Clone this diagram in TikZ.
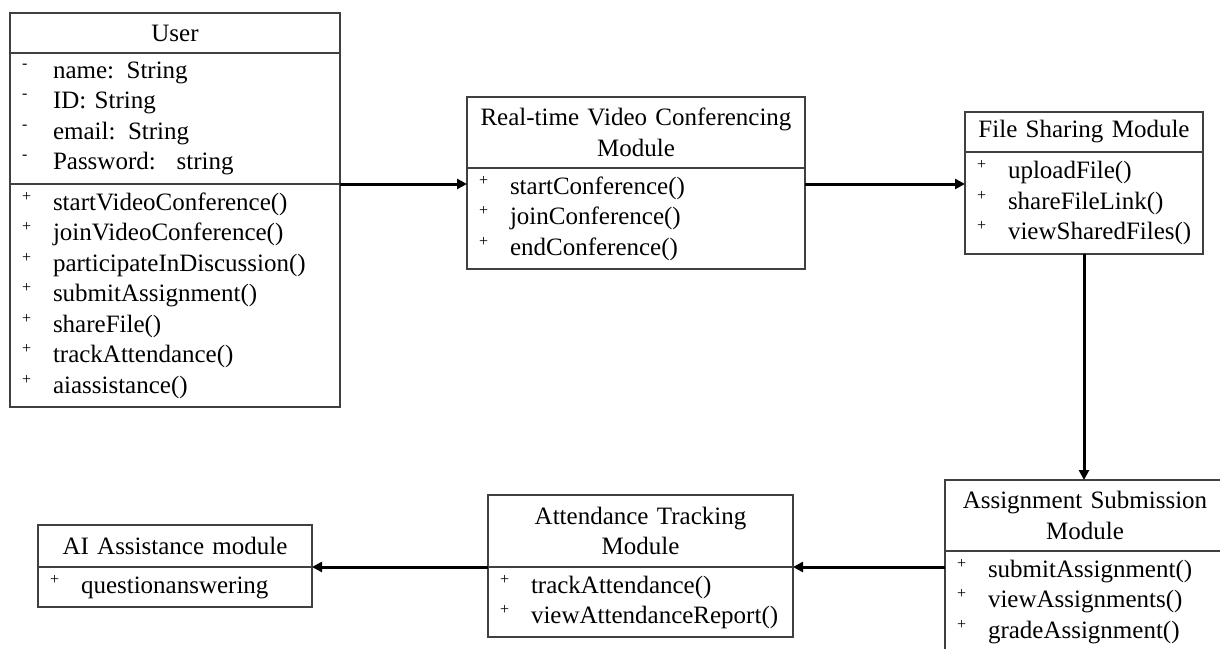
\documentclass[tikz,border=0pt]{standalone}
\usepackage{fontspec}
\setmainfont{Liberation Serif}
\usetikzlibrary{arrows.meta,positioning}

\newcommand\pub{\makebox[15.5pt][l]{\raisebox{4.5pt}{\footnotesize +}}}
\newcommand\priv{\makebox[15.5pt][l]{\raisebox{5pt}{\footnotesize -}}}

\begin{document}
\begin{tikzpicture}[x=0.5pt,y=-0.5pt,
	font=\fontsize{12.5}{15.25}\selectfont,
	box/.style={draw=black!75,line width=0.6pt,outer sep=0pt,inner xsep=6pt,inner ysep=0pt},
	head/.style={box,align=center},
	body/.style={box,align=left},
	link/.style={line width=1.5pt,-{Triangle[length=5pt,width=5pt]}}]
	    \useasboundingbox (0,0) rectangle (1220,648);
	    \clip (0,0) rectangle (1220,648);
	    \coordinate (upper) at (0,184);
	    % User
	    \node[head,anchor=north west,minimum width=165pt,text width=153pt,minimum height=20pt] (uhead) at (10,13) {User};
	    \node[body,below=0pt of uhead,minimum width=165pt,text width=153pt,minimum height=65.5pt] (uattr) {\priv name: String\\ \priv ID: String\\ \priv email: String\\ \priv Password:~ string};
	    \node[body,below=0pt of uattr,minimum width=165pt,text width=153pt,minimum height=111.5pt] (umeth) {\pub startVideoConference()\\ \pub joinVideoConference()\\ \pub participateInDiscussion()\\ \pub submitAssignment()\\ \pub shareFile()\\ \pub trackAttendance()\\ \pub aiassistance()};
	    % Real-time video conferencing
	    \node[head,anchor=north west,minimum width=169pt,text width=157pt,minimum height=35.5pt] (rthead) at (467,97) {Real-time Video Conferencing\\ Module};
	    \node[body,below=0pt of rthead,minimum width=169pt,text width=157pt,minimum height=50.5pt] (rtmeth) {\pub startConference()\\ \pub joinConference()\\ \pub endConference()};
	    % File sharing
	    \node[head,anchor=north west,minimum width=119pt,text width=107pt,minimum height=20pt] (fhead) at (965,112) {File Sharing Module};
	    \node[body,below=0pt of fhead,minimum width=119pt,text width=107pt,minimum height=51pt] (fmeth) {\pub uploadFile()\\ \pub shareFileLink()\\ \pub viewSharedFiles()};
	    % Assignment submission
	    \node[head,anchor=north west,minimum width=140pt,text width=128pt,minimum height=35.5pt] (ahead) at (945,480) {Assignment Submission\\ Module};
	    \node[body,below=0pt of ahead,minimum width=140pt,text width=128pt,minimum height=50.5pt] (ameth) {\pub submitAssignment()\\ \pub viewAssignments()\\ \pub gradeAssignment()};
	    % Attendance tracking
	    \node[head,anchor=north west,minimum width=152.5pt,text width=140.5pt,minimum height=36pt] (thead) at (488,495) {Attendance Tracking\\ Module};
	    \node[body,below=0pt of thead,minimum width=152.5pt,text width=140.5pt,minimum height=35pt] (tmeth) {\pub trackAttendance()\\ \pub viewAttendanceReport()};
	    % AI assistance
	    \node[head,anchor=north west,minimum width=137pt,text width=125pt,minimum height=21pt] (aihead) at (38,525) {AI Assistance module};
	    \node[body,below=0pt of aihead,minimum width=137pt,text width=125pt,minimum height=20pt] (aimeth) {\pub questionanswering};
	    % links
	    \draw[link] (uattr.south east) -- (upper -| rtmeth.west);
	    \draw[link] (upper -| rtmeth.east) -- (upper -| fmeth.west);
	    \draw[link] (fmeth.south) -- (fmeth.south |- ahead.north);
	    \draw[link] (thead.south east -| ameth.west) -- (thead.south east);
	    \draw[link] (aihead.south east -| tmeth.west) -- (aihead.south east);
\end{tikzpicture}
\end{document}
